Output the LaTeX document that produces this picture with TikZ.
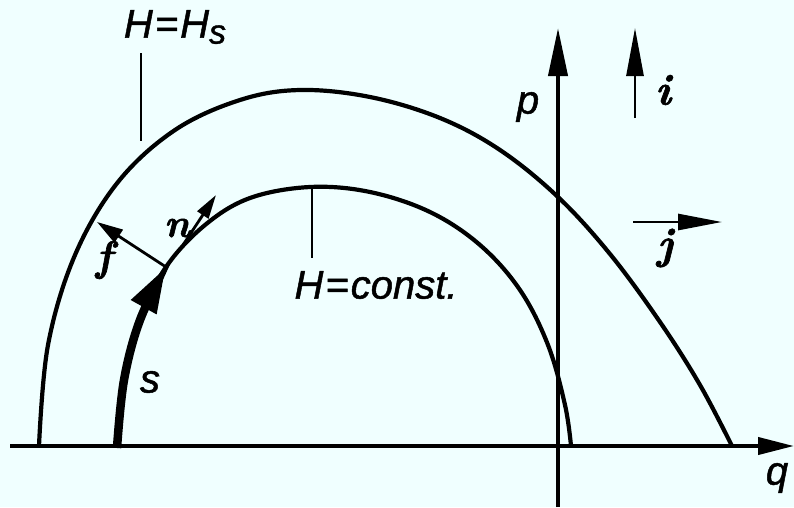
\documentclass[tikz,border=0pt]{standalone}
\usepackage{fontspec}
\newfontfamily\labfont[FakeBold=1.2]{Liberation Sans}
\newfontfamily\vecfont[FakeBold=1.5]{Latin Modern Roman}
\usetikzlibrary{arrows.meta}
\definecolor{bgc}{HTML}{F0FFFF}
\tikzset{
  curve/.style={line width=4.2pt, line join=round},
  axis/.style={line width=4pt},
  tickline/.style={line width=2.2pt},
  vec/.style={line width=2.8pt},
  lab/.style={font=\labfont\itshape\fontsize{40}{40}\selectfont, inner sep=0pt},
  vlab/.style={inner sep=0pt}
}
\begin{document}
\begin{tikzpicture}[x=1pt,y=-1pt]
\fill[bgc] (0,0) rectangle (794,507);
\useasboundingbox (0,0) rectangle (794,507);
% axes
\coordinate (qa) at (10,446);
\coordinate (qb) at (794,446);
\coordinate (pa) at (558,507);
\coordinate (pb) at (558,28);
\draw[axis, -{Triangle[length=36pt,width=17pt]}] (qa) -- (qb);
\draw[axis, -{Triangle[length=48pt,width=19pt]}] (pa) -- (pb);
% outer curve H = H_s
\draw[curve] plot[smooth, tension=0.6] coordinates {(39,446) (48,345) (75,255) (118,182) (175,130) (240,100) (300,90) (370,97) (440,118) (500,150) (558,197) (610,254) (660,322) (700,385) (732,446)};
% inner curve H = const
\draw[curve] plot[smooth, tension=0.6] coordinates {(117,446) (124,380) (140,320) (166,267) (205,225) (250,198) (310,187) (370,192) (430,212) (480,245) (520,290) (548,345) (565,405) (571,446)};
% thick s arc
\coordinate (P) at (166,267);
\draw[line width=8.5pt, -{Triangle[length=46pt,width=27pt]}] plot[smooth, tension=0.6] coordinates {(117,448) (124,380) (140,320) (P)};
% vectors at P
\coordinate (F) at (97,222);
\draw[vec, -{Triangle[length=26pt,width=15pt]}] (P) -- (F);
\coordinate (N0) at (183,245);
\coordinate (N) at (216,195);
\draw[vec, -{Triangle[length=24pt,width=13pt]}] (N0) -- (N);
% unit vectors i, j
\coordinate (ia) at (635,118);
\coordinate (ib) at (635,28);
\draw[vec, -{Triangle[length=48pt,width=17pt]}] (ia) -- (ib);
\coordinate (ja) at (633,222);
\coordinate (jb) at (722,222);
\draw[vec, -{Triangle[length=44pt,width=16pt]}] (ja) -- (jb);
% labels
\node[lab] (Hs) at (175,27) {H\kern2pt=\kern2ptH\raisebox{-6pt}{\fontsize{34}{34}\selectfont s}};
\coordinate (t1a) at (141,53);
\coordinate (t1b) at (141,141);
\draw[tickline] (t1a) -- (t1b);
\node[lab] (Hc) at (376,285) {H\kern2pt=\kern2ptconst.};
\coordinate (t2a) at (312,188);
\coordinate (t2b) at (312,258);
\draw[tickline] (t2a) -- (t2b);
\node[lab] (plab) at (528,107) {p};
\node[lab] (qlab) at (777,478) {q};
\node[lab] (slab) at (150,382) {s};
\node[vlab, font=\vecfont\bfseries\itshape\fontsize{44}{44}\selectfont] (ilab) at (663,90) {i};
\node[vlab, font=\vecfont\bfseries\itshape\fontsize{44}{44}\selectfont] (jlab) at (665,248) {j};
\node[vlab, font=\vecfont\bfseries\itshape\fontsize{42}{42}\selectfont] (flab) at (104,260) {f};
\node[vlab, font=\vecfont\bfseries\itshape\fontsize{40}{40}\selectfont] (nlab) at (177,228) {n};
\end{tikzpicture}
\end{document}
